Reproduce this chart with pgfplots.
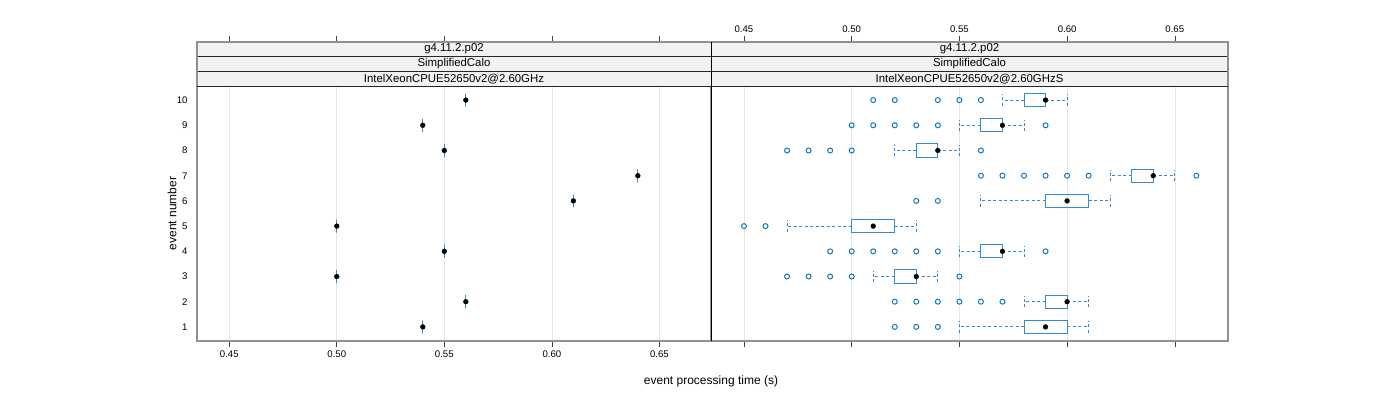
\documentclass[border=0pt]{standalone}
\usepackage{fontspec}
\setmainfont{Liberation Sans}
\usepackage{pgfplots}
\pgfplotsset{compat=1.18}
\usepgfplotslibrary{statistics}

\definecolor{boxc}{RGB}{50,140,205}
\definecolor{outc}{RGB}{20,118,195}
\definecolor{framec}{RGB}{145,145,145}
\definecolor{stripc}{RGB}{242,242,242}
\definecolor{gridc}{RGB}{230,230,230}

\pgfplotsset{
  panel/.style={
    scale only axis, height=299pt,
    ymin=0.44, ymax=12.306,
    axis line style={framec, line width=1.1pt},
    xtick={0.45,0.50,0.55,0.60,0.65},
    xticklabels={0.45,0.50,0.55,0.60,0.65},
    xmajorgrids, grid style={gridc, line width=0.6pt},
    tick align=outside, major tick length=6pt,
    x tick style={black!75, line width=0.6pt},
    tick label style={font=\fontsize{9.6}{11}\selectfont},
    /pgf/number format/assume math mode=true,
    boxplot/draw direction=x,
    boxplot/box extend=0.52,
    boxplot/whisker extend=0.46,
    boxplot/every whisker/.style={dash pattern=on 3pt off 2.5pt},
    boxplot/every median/.style={draw=none},
  },
  bx/.style={boxc, line width=1pt, solid},
  med/.style={only marks, mark=*, mark size=2.4pt, black},
  outl/.style={only marks, mark=o, mark size=2.5pt, outc, line width=1pt},
}
% draw position, lower whisker, lower quartile, median, upper quartile, upper whisker
\newcommand{\bp}[6]{\addplot[bx, boxplot prepared={draw position=#1,
  lower whisker=#2, lower quartile=#3, median=#4,
  upper quartile=#5, upper whisker=#6}] coordinates {};}

\begin{document}
\begin{tikzpicture}[x=1pt,y=1pt]
\useasboundingbox (-197,-59) rectangle (1203,341);

% left panel: one measurement per event
\begin{axis}[panel, at={(0pt,0pt)}, anchor=south west, width=514pt,
  xmin=0.435, xmax=0.674,
  ytick={1,2,3,4,5,6,7,8,9,10}, ytick style={draw=none},
  xticklabel pos=lower]
\bp{1}{0.54}{0.54}{0.54}{0.54}{0.54}
\bp{2}{0.56}{0.56}{0.56}{0.56}{0.56}
\bp{3}{0.50}{0.50}{0.50}{0.50}{0.50}
\bp{4}{0.55}{0.55}{0.55}{0.55}{0.55}
\bp{5}{0.50}{0.50}{0.50}{0.50}{0.50}
\bp{6}{0.61}{0.61}{0.61}{0.61}{0.61}
\bp{7}{0.64}{0.64}{0.64}{0.64}{0.64}
\bp{8}{0.55}{0.55}{0.55}{0.55}{0.55}
\bp{9}{0.54}{0.54}{0.54}{0.54}{0.54}
\bp{10}{0.56}{0.56}{0.56}{0.56}{0.56}
\addplot[med] coordinates {
  (0.54,1) (0.56,2) (0.50,3) (0.55,4) (0.50,5)
  (0.61,6) (0.64,7) (0.55,8) (0.54,9) (0.56,10)};
\end{axis}

% right panel: distribution per event
\begin{axis}[panel, at={(514pt,0pt)}, anchor=south west, width=517pt,
  xmin=0.4347, xmax=0.6747,
  ytick=\empty, xticklabel pos=upper]
\bp{1}{0.55}{0.58}{0.59}{0.60}{0.61}
\bp{2}{0.58}{0.59}{0.60}{0.60}{0.61}
\bp{3}{0.51}{0.52}{0.53}{0.53}{0.54}
\bp{4}{0.55}{0.56}{0.57}{0.57}{0.58}
\bp{5}{0.47}{0.50}{0.51}{0.52}{0.53}
\bp{6}{0.56}{0.59}{0.60}{0.61}{0.62}
\bp{7}{0.62}{0.63}{0.64}{0.64}{0.65}
\bp{8}{0.52}{0.53}{0.54}{0.54}{0.55}
\bp{9}{0.55}{0.56}{0.57}{0.57}{0.58}
\bp{10}{0.57}{0.58}{0.59}{0.59}{0.60}
\addplot[outl] coordinates {
  (0.52,1) (0.53,1) (0.54,1)
  (0.52,2) (0.53,2) (0.54,2) (0.55,2) (0.56,2) (0.57,2)
  (0.47,3) (0.48,3) (0.49,3) (0.50,3) (0.55,3)
  (0.49,4) (0.50,4) (0.51,4) (0.52,4) (0.53,4) (0.54,4) (0.59,4)
  (0.45,5) (0.46,5)
  (0.53,6) (0.54,6)
  (0.56,7) (0.57,7) (0.58,7) (0.59,7) (0.60,7) (0.61,7) (0.66,7)
  (0.47,8) (0.48,8) (0.49,8) (0.50,8) (0.56,8)
  (0.50,9) (0.51,9) (0.52,9) (0.53,9) (0.54,9) (0.59,9)
  (0.51,10) (0.52,10) (0.54,10) (0.55,10) (0.56,10)};
\addplot[med] coordinates {
  (0.59,1) (0.60,2) (0.53,3) (0.57,4) (0.51,5)
  (0.60,6) (0.64,7) (0.54,8) (0.57,9) (0.59,10)};
\end{axis}

% strips
\fill[stripc] (0,255) rectangle (1031,299);
\draw[black!85, line width=0.7pt] (0,255) -- (1031,255)
  (0,269.67) -- (1031,269.67) (0,284.33) -- (1031,284.33);
\draw[framec, line width=1.1pt] (0,255) -- (0,299) -- (1031,299) -- (1031,255);
\draw[black, line width=0.7pt] (514,0) -- (514,299);
\begin{scope}[font=\fontsize{11.4}{13}\selectfont, inner sep=0pt]
\node at (257,292) {g4.11.2.p02};
\node at (257,277) {SimplifiedCalo};
\node at (257,262.3) {IntelXeonCPUE52650v2@2.60GHz};
\node at (772.5,292) {g4.11.2.p02};
\node at (772.5,277) {SimplifiedCalo};
\node at (772.5,262.3) {IntelXeonCPUE52650v2@2.60GHzS};
\end{scope}
\begin{scope}[font=\fontsize{12}{14}\selectfont, inner sep=0pt]
\node at (514,-40) {event processing time (s)};
\node[rotate=90] at (-25,127.5) {event number};
\end{scope}
\end{tikzpicture}
\end{document}
